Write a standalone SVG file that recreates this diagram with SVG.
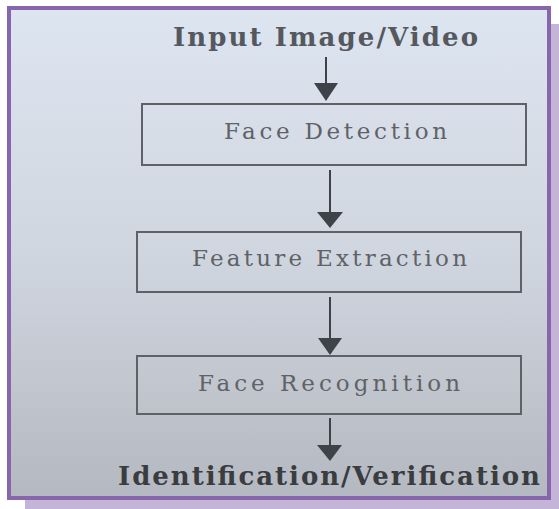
<svg xmlns="http://www.w3.org/2000/svg" width="559" height="509" viewBox="0 0 559 509">
<defs>
<linearGradient id="bg" x1="0" y1="0" x2="0" y2="1">
<stop offset="0" stop-color="#dde5f0"/>
<stop offset="0.5" stop-color="#d0d6e0"/>
<stop offset="1" stop-color="#b4b8c0"/>
</linearGradient>
</defs>
<style>
.box{fill:none;stroke:#5e6166;stroke-width:2}
.lbl{font-family:"DejaVu Serif","Liberation Serif",serif;font-size:23px;fill:#606266}
.ttl{font-family:"DejaVu Serif","Liberation Serif",serif;font-size:26px;font-weight:bold}
.shaft{stroke:#3e4249;stroke-width:2;fill:none}
.head{fill:#3e4249}
</style>
<rect x="25" y="24" width="534" height="485" fill="#c4b4d8"/>
<rect x="9" y="8" width="540" height="490" fill="url(#bg)" stroke="#8766ab" stroke-width="4"/>
<g id="input">
<text class="ttl" x="173" y="46" fill="#55585e" textLength="305" lengthAdjust="spacing">Input Image/Video</text>
</g>
<g id="face-detection">
<rect class="box" x="142" y="104" width="384" height="61"/>
<text class="lbl" x="224" y="139" textLength="223" lengthAdjust="spacing">Face Detection</text>
</g>
<g id="feature-extraction">
<rect class="box" x="137" y="232" width="384" height="60"/>
<text class="lbl" x="192" y="266" textLength="275" lengthAdjust="spacing">Feature Extraction</text>
</g>
<g id="face-recognition">
<rect class="box" x="137" y="356" width="384" height="58"/>
<text class="lbl" x="198" y="391" textLength="262" lengthAdjust="spacing">Face Recognition</text>
</g>
<g id="output">
<text class="ttl" x="118" y="485" fill="#3a3c40" textLength="422" lengthAdjust="spacing">Identification/Verification</text>
</g>
<g id="connectors">
<line class="shaft" x1="326" y1="57" x2="326" y2="85"/>
<polygon class="head" points="314,83 338,83 326,101"/>
<line class="shaft" x1="330" y1="170" x2="330" y2="214"/>
<polygon class="head" points="317,212 343,212 330,228"/>
<line class="shaft" x1="330" y1="297" x2="330" y2="340"/>
<polygon class="head" points="318,338 342,338 330,355"/>
<line class="shaft" x1="330" y1="418" x2="330" y2="447"/>
<polygon class="head" points="317,445 342,445 330,461"/>
</g>
</svg>
